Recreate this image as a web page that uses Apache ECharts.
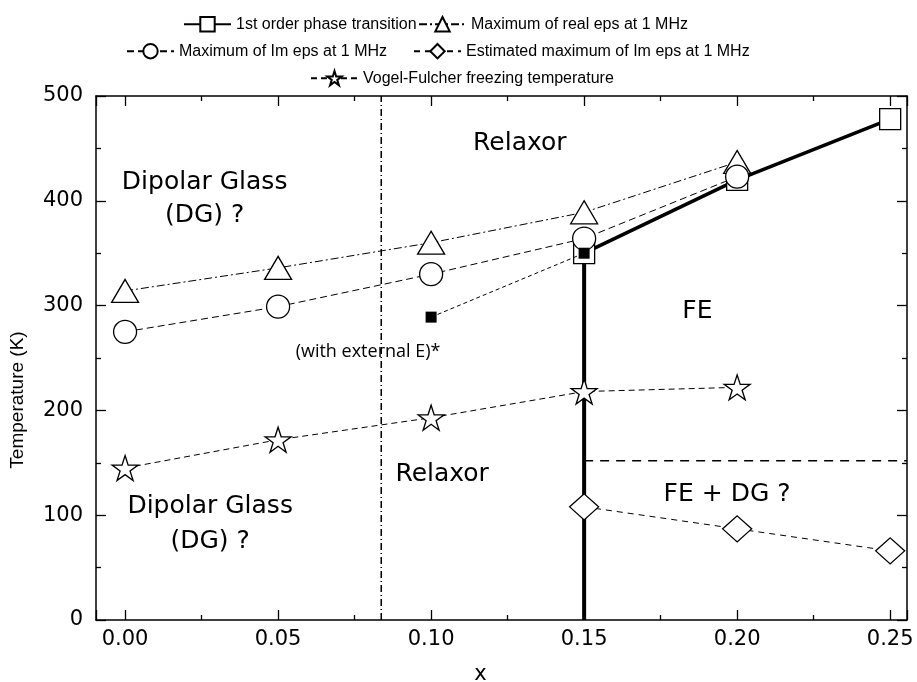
<!DOCTYPE html>
<html>
<head>
<meta charset="utf-8">
<script src="https://cdn.jsdelivr.net/npm/echarts@6/dist/echarts.min.js"></script>
<style>
  html, body { margin: 0; padding: 0; background: #fff; }
  #chart { width: 917px; height: 682px; }
</style>
</head>
<body>
<div id="chart"></div>
<script>
// Phase diagram: transition temperatures versus composition x
const firstOrder = [[0.15, 350], [0.20, 420], [0.25, 478]];
const firstOrderVertical = [[0.15, 0], [0.15, 350]];
const realEpsMax = [[0.00, 314], [0.05, 336], [0.10, 360], [0.15, 389], [0.20, 437]];
const imEpsMax = [[0.00, 275], [0.05, 299], [0.10, 330], [0.15, 364], [0.20, 423]];
const imEpsEstimated = [[0.15, 108], [0.20, 87], [0.25, 66]];
const vogelFulcher = [[0.00, 145], [0.05, 172], [0.10, 193], [0.15, 218], [0.20, 222]];
const externalField = [[0.10, 289], [0.15, 350]];
const relaxorBoundary = [[0.0837, 0], [0.0837, 500]];
const feDgBoundary = [[0.15, 152], [0.2555, 152]];

// Region labels placed in data coordinates
const regionLabels = [
  { value: [0.129, 455], name: 'Relaxor' },
  { value: [0.026, 417], name: 'Dipolar Glass' },
  { value: [0.026, 386], name: '(DG) ?' },
  { value: [0.187, 294], name: 'FE' },
  { value: [0.1036, 139], name: 'Relaxor' },
  { value: [0.0278, 108], name: 'Dipolar Glass' },
  { value: [0.0278, 75], name: '(DG) ?' },
  { value: [0.1967, 120], name: 'FE + DG ?' }
];
const noteLabels = [
  { value: [0.0794, 256], name: '(with external E)*' }
];

const xRange = [-0.0095, 0.2555];
const yRange = [0, 500];
const yStep = 100;

const STAR = 'path://M50 0 L61.2 34.5 L97.6 34.5 L68.2 55.9 L79.4 90.5 L50 69.1 L20.6 90.5 L31.8 55.9 L2.4 34.5 L38.8 34.5 Z';
const FONT = 'Liberation Sans, Arial, sans-serif';
const WIDE = 'DejaVu Sans, sans-serif';

const chart = echarts.init(document.getElementById('chart'), null, { renderer: 'canvas' });

const tickCommon = {
  axisLine: { show: true, onZero: false, lineStyle: { color: '#000', width: 1.5 } },
  axisTick: { show: true, inside: true, length: 10, lineStyle: { color: '#000', width: 1.3 } },
  minorTick: { show: true, splitNumber: 2, length: 5, lineStyle: { color: '#000', width: 1.3 } },
  splitLine: { show: false },
  minorSplitLine: { show: false }
};

const markerStyle = { color: '#fff', borderColor: '#000', borderWidth: 1.3 };

function fmtX(v) {
  const k = Math.round(v / 0.05);
  if (Math.abs(v - k * 0.05) > 1e-6) return '';
  return v.toFixed(2);
}

function legendItem(name, left, top) {
  return {
    data: [name], left: left, top: top, padding: 0,
    itemWidth: 47, itemHeight: 18, itemGap: 0, selectedMode: false,
    textStyle: { fontSize: 16, color: '#000', fontFamily: FONT }
  };
}

chart.setOption({
  animation: false,
  backgroundColor: '#fff',
  textStyle: { fontFamily: FONT, color: '#000' },
  grid: { left: 96, right: 10, top: 96, bottom: 62, containLabel: false, outerBoundsMode: 'none' },
  legend: [
    legendItem('1st order phase transition', 183, 16),
    legendItem('Maximum of real eps at 1 MHz', 418, 16),
    legendItem('Maximum of Im eps at 1 MHz', 126, 43),
    legendItem('Estimated maximum of Im eps at 1 MHz', 413, 43),
    legendItem('Vogel-Fulcher freezing temperature', 310, 70)
  ],
  xAxis: [
    Object.assign({
      type: 'value', position: 'bottom', min: xRange[0], max: xRange[1],
      name: 'x', nameLocation: 'middle', nameGap: 44,
      nameTextStyle: { fontSize: 21, color: '#000', fontFamily: WIDE, padding: [0, 42, 0, 0] },
      axisLabel: {
        show: true, fontSize: 21, color: '#000', fontFamily: WIDE, margin: 9,
        interval: 0, showMinLabel: false, showMaxLabel: false, formatter: fmtX
      }
    }, tickCommon),
    Object.assign({
      type: 'value', position: 'top', min: xRange[0], max: xRange[1],
      axisLabel: { show: false }
    }, tickCommon)
  ],
  yAxis: [
    Object.assign({
      type: 'value', position: 'left', min: yRange[0], max: yRange[1], interval: yStep,
      axisLabel: { show: true, fontSize: 21, color: '#000', fontFamily: WIDE, margin: 13 }
    }, tickCommon),
    Object.assign({
      type: 'value', position: 'right', min: yRange[0], max: yRange[1], interval: yStep,
      axisLabel: { show: false }
    }, tickCommon)
  ],
  graphic: [
    {
      type: 'text', x: 18, y: 400, rotation: Math.PI / 2,
      style: {
        text: 'Temperature (K)', fill: '#000', font: '19px ' + FONT,
        align: 'center', verticalAlign: 'middle'
      }
    }
  ],
  series: [
    {
      name: 'relaxor boundary', type: 'line', data: relaxorBoundary, symbol: 'none',
      lineStyle: { color: '#000', width: 1.5, type: [7, 3, 1, 3] }, z: 1, silent: true
    },
    {
      name: 'FE/DG boundary', type: 'line', data: feDgBoundary, symbol: 'none',
      lineStyle: { color: '#000', width: 1.5, type: [9, 7] }, z: 1, silent: true
    },
    {
      name: '1st order vertical', type: 'line', data: firstOrderVertical, symbol: 'none',
      lineStyle: { color: '#000', width: 4 }, z: 2
    },
    {
      name: '1st order phase transition', type: 'line', data: firstOrder,
      symbol: 'rect', symbolSize: 21, showSymbol: true,
      itemStyle: markerStyle, lineStyle: { color: '#000', width: 3.5 }, z: 3
    },
    {
      name: 'Maximum of real eps at 1 MHz', type: 'line', data: realEpsMax,
      symbol: 'triangle', symbolSize: [27, 23], showSymbol: true,
      itemStyle: markerStyle, lineStyle: { color: '#000', width: 1, type: [8, 3, 2, 3] }, z: 4
    },
    {
      name: 'Maximum of Im eps at 1 MHz', type: 'line', data: imEpsMax,
      symbol: 'circle', symbolSize: 23, showSymbol: true,
      itemStyle: markerStyle, lineStyle: { color: '#000', width: 1, type: [7, 4] }, z: 5
    },
    {
      name: 'Estimated maximum of Im eps at 1 MHz', type: 'line', data: imEpsEstimated,
      symbol: 'diamond', symbolSize: [29, 26], showSymbol: true,
      itemStyle: markerStyle, lineStyle: { color: '#000', width: 1, type: [6, 5] }, z: 5
    },
    {
      name: 'Vogel-Fulcher freezing temperature', type: 'line', data: vogelFulcher,
      symbol: STAR, symbolSize: [26, 25], showSymbol: true,
      itemStyle: markerStyle, lineStyle: { color: '#000', width: 1, type: [6, 4] }, z: 5
    },
    {
      name: 'with external E', type: 'line', data: externalField,
      symbol: 'rect', symbolSize: 11, showSymbol: true,
      itemStyle: { color: '#000', borderColor: '#000', borderWidth: 0 },
      lineStyle: { color: '#000', width: 1, type: [4, 3] }, z: 6
    },
    {
      name: 'regions', type: 'scatter', data: regionLabels, symbolSize: 0, silent: true,
      itemStyle: { opacity: 1 },
      label: {
        show: true, position: 'inside', formatter: '{b}', opacity: 1,
        fontSize: 25, color: '#000', fontFamily: WIDE
      }, z: 7
    },
    {
      name: 'notes', type: 'scatter', data: noteLabels, symbolSize: 0, silent: true,
      itemStyle: { opacity: 1 },
      label: {
        show: true, position: 'inside', formatter: '{b}', opacity: 1,
        fontSize: 18, color: '#000', fontFamily: 'Open Sans, Noto Sans, sans-serif'
      }, z: 7
    }
  ]
});
</script>
</body>
</html>
